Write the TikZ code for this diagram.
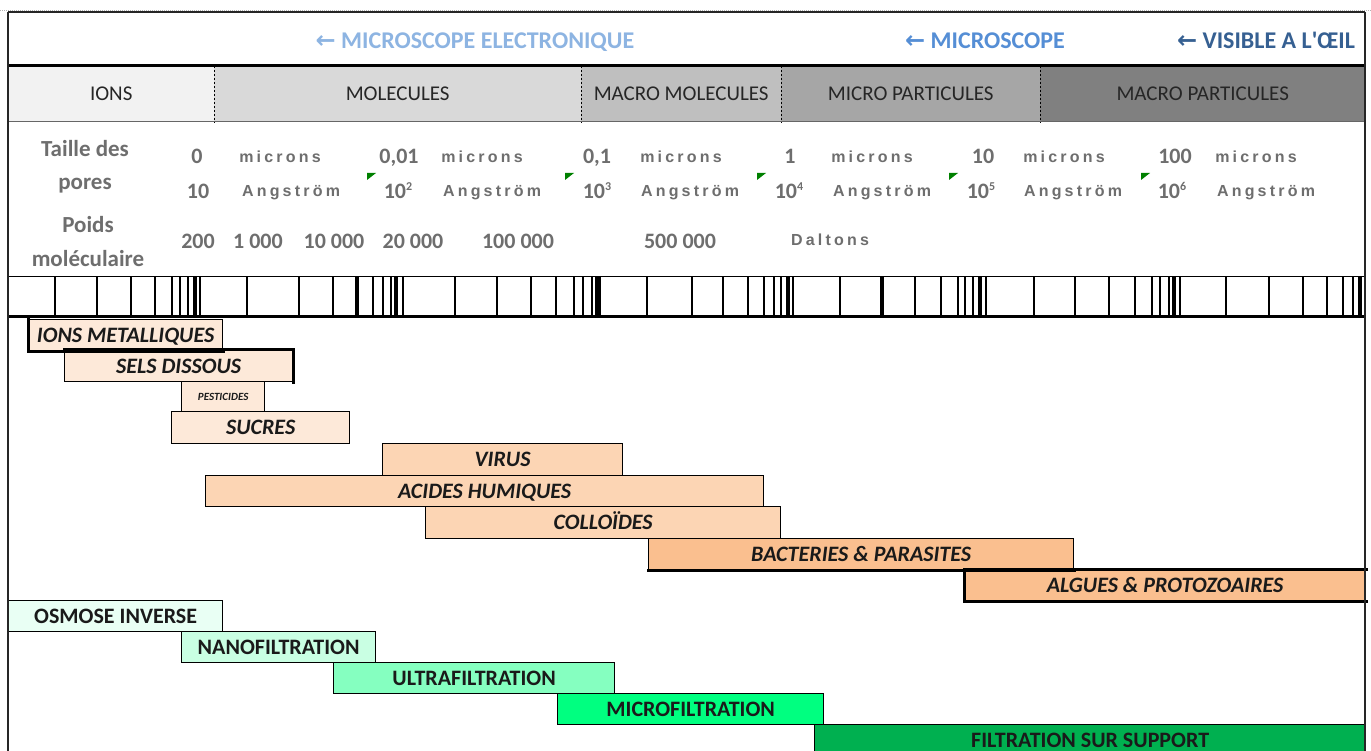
\documentclass[tikz,border=0pt]{standalone}
\usepackage{fontspec}
\setmainfont{Carlito}
\newfontfamily\arialsp[LetterSpace=20]{Liberation Sans}
\newfontfamily\dejavu{DejaVu Sans}
\newcommand\setfs[1]{\fontsize{#1}{#1}\selectfont}
\definecolor{hdrA}{HTML}{8DB4E2}
\definecolor{hdrB}{HTML}{558ED5}
\definecolor{hdrC}{HTML}{366092}
\definecolor{catA}{HTML}{F2F2F2}
\definecolor{catB}{HTML}{D9D9D9}
\definecolor{catC}{HTML}{BFBFBF}
\definecolor{catD}{HTML}{A6A6A6}
\definecolor{catE}{HTML}{808080}
\definecolor{catText}{HTML}{262626}
\definecolor{grayText}{HTML}{6E6E6E}
\definecolor{barText}{HTML}{1A1A1A}
\definecolor{peachA}{HTML}{FDE9D9}
\definecolor{peachB}{HTML}{FCD5B4}
\definecolor{peachC}{HTML}{FABF8F}
\definecolor{mintA}{HTML}{E9FFF4}
\definecolor{mintB}{HTML}{C9FFE3}
\definecolor{mintC}{HTML}{85FFC0}
\definecolor{greenA}{HTML}{00FF80}
\definecolor{greenB}{HTML}{00B050}
\definecolor{triGreen}{HTML}{008000}
\newcommand\mkbox[8]{% style, name, x1, y1, x2, y2, fill, text
  \node[#1, fill=#7, minimum width={(#5-#3)*1pt}, minimum height={(#6-#4)*1pt}, anchor=north west] (#2) at (#3,#4) {#8};}
\begin{document}
\begin{tikzpicture}[x=1pt,y=-1pt,
  hdr/.style={font=\bfseries\setfs{24}, inner sep=0, anchor=base},
  cat/.style={draw=none, inner sep=0, font=\setfs{21}, text=catText, text height=13.5pt, text depth=0pt},
  lbl/.style={font=\bfseries\setfs{23}, text=grayText, inner sep=0, anchor=base},
  num/.style={font=\bfseries\setfs{22}, text=grayText, inner sep=0, anchor=base},
  unit/.style={font=\arialsp\bfseries\setfs{16}, text=grayText, inner sep=0, anchor=base},
  bar/.style={draw=black, line width=1.3pt, inner sep=0, font=\bfseries\setfs{22}, text=barText, text height=14pt, text depth=0pt},
  barit/.style={bar, font=\bfseries\itshape\setfs{22}},
  tiny/.style={bar, font=\bfseries\itshape\setfs{11}, text height=7pt},
  thickedge/.style={line width=3pt, line cap=rect},
  frame/.style={line width=1.5pt, draw=black!85},
  divider/.style={line width=1.3pt, dash pattern=on 2pt off 2pt},
  tick/.style={line width=1.3pt},
  bigtick/.style={line width=3.2pt},
  tri/.style={fill=triGreen}]
\useasboundingbox (0,0) rectangle (1371,751);
\clip (0,0) rectangle (1371,751);
\fill[white] (0,0) rectangle (1371,751);
\draw[black!30, dash pattern=on 1pt off 1pt] (0,10) -- (1371,10);

% header row
\node[hdr, text=hdrA] (hElec) at (475,49) {{\dejavu\bfseries ←} MICROSCOPE ELECTRONIQUE};
\node[hdr, text=hdrB] (hMicro) at (985,49) {{\dejavu\bfseries ←} MICROSCOPE};
\node[hdr, text=hdrC] (hOeil) at (1266,49) {{\dejavu\bfseries ←} VISIBLE A L\addfontfeatures{Ligatures=TeXOff}'ŒIL};

% category row
\mkbox{cat}{cIons}{8}{66}{214}{122}{catA}{IONS}
\mkbox{cat}{cMol}{214}{66}{581}{122}{catB}{MOLECULES}
\mkbox{cat}{cMacMol}{581}{66}{781}{122}{catC}{MACRO MOLECULES}
\mkbox{cat}{cMicPart}{781}{66}{1040}{122}{catD}{MICRO PARTICULES}
\mkbox{cat}{cMacPart}{1040}{66}{1365}{122}{catE}{MACRO PARTICULES}
\draw[divider] (cIons.north east) -- (cIons.south east);
\draw[divider] (cMol.north east) -- (cMol.south east);
\draw[divider] (cMacMol.north east) -- (cMacMol.south east);
\draw[divider] (cMicPart.north east) -- (cMicPart.south east);
\draw[line width=3pt] (8,66) -- (1365,66);
\draw[line width=1pt, black!60] (8,122) -- (1365,122);

% labels
\node[lbl] (lTaille) at (85,157) {Taille des};
\node[lbl] (lPores) at (85,190) {pores};
\node[lbl] (lPoids) at (88,233) {Poids};
\node[lbl] (lMol) at (88,267) {moléculaire};

% row 1
\node[num] (n1a) at (197,164) {0};
\node[unit] (u1a) at (280,163) {microns};
\node[num] (n1b) at (399,164) {0,01};
\node[unit] (u1b) at (482,163) {microns};
\node[num] (n1c) at (597,164) {0,1};
\node[unit] (u1c) at (681,163) {microns};
\node[num] (n1d) at (790,164) {1};
\node[unit] (u1d) at (872,163) {microns};
\node[num] (n1e) at (983,164) {10};
\node[unit] (u1e) at (1064,163) {microns};
\node[num] (n1f) at (1175,164) {100};
\node[unit] (u1f) at (1256,163) {microns};

% row 2
\node[num] (n2a) at (198,199) {10};
\node[unit] (u2a) at (291,197) {Angström};
\node[num] (n2b) at (398,199) {10\raisebox{8pt}{\setfs{12}2}};
\node[unit] (u2b) at (492,197) {Angström};
\node[num] (n2c) at (597,199) {10\raisebox{8pt}{\setfs{12}3}};
\node[unit] (u2c) at (690,197) {Angström};
\node[num] (n2d) at (789,199) {10\raisebox{8pt}{\setfs{12}4}};
\node[unit] (u2d) at (882,197) {Angström};
\node[num] (n2e) at (981,199) {10\raisebox{8pt}{\setfs{12}5}};
\node[unit] (u2e) at (1073,197) {Angström};
\node[num] (n2f) at (1172,199) {10\raisebox{8pt}{\setfs{12}6}};
\node[unit] (u2f) at (1266,197) {Angström};
\fill[tri] (367,173) -- ++(9,0) -- ++(-9,7) -- cycle;
\fill[tri] (565,173) -- ++(9,0) -- ++(-9,7) -- cycle;
\fill[tri] (757,173) -- ++(9,0) -- ++(-9,7) -- cycle;
\fill[tri] (949,173) -- ++(9,0) -- ++(-9,7) -- cycle;
\fill[tri] (1141,173) -- ++(9,0) -- ++(-9,7) -- cycle;

% row 3
\node[num] (n3a) at (198,249) {200};
\node[num] (n3b) at (258,249) {1 000};
\node[num] (n3c) at (334,249) {10 000};
\node[num] (n3d) at (413,249) {20 000};
\node[num] (n3e) at (518,249) {100 000};
\node[num] (n3f) at (680,249) {500 000};
\node[unit] (u3) at (830,246) {Daltons};

% ruler
\draw[line width=1pt] (8,277) -- (1365,277);
\foreach \t in {55,97,131,155,172,180,188,200,247,299,333,373,383,391,403,455,497,531,556,574,583,592,600,647,692,723,748,764,774,781,793,840,915,941,958,965,973,986,1034,1075,1109,1135,1152,1160,1169,1180,1226,1269,1303,1327,1343,1353}
  \draw[tick] (\t,277) -- (\t,317);
\foreach \t in {195,357,396,597,788,882,980,1174,1360}
  \draw[bigtick] (\t,277) -- (\t,317);
\draw[line width=3pt] (8,317) -- (1365,317);

% substance bars
\mkbox{barit}{bIonsM}{28}{319}{222}{350}{peachA}{IONS METALLIQUES}
\mkbox{barit}{bSels}{64}{350}{292}{381}{peachA}{SELS DISSOUS}
\mkbox{tiny}{bPest}{181}{381}{264}{411}{peachA}{PESTICIDES}
\mkbox{barit}{bSucres}{171}{411}{349}{443}{peachA}{SUCRES}
\mkbox{barit}{bVirus}{382}{443}{622}{475}{peachB}{VIRUS}
\mkbox{barit}{bAcides}{205}{475}{763}{506}{peachB}{ACIDES HUMIQUES}
\mkbox{barit}{bColl}{425}{506}{780}{538}{peachB}{COLLOÏDES}
\mkbox{barit}{bBact}{648}{538}{1073}{569}{peachC}{BACTERIES \& PARASITES}
\mkbox{barit}{bAlg}{964}{569}{1365}{600}{peachC}{ALGUES \& PROTOZOAIRES}
\draw[thickedge] (bIonsM.north west) -- (bIonsM.south west) -- (bIonsM.south east);
\draw[thickedge] (bSels.north west) -- (bSels.north east) -- (bSels.south east);
\draw[thickedge] (bBact.south west) -- (bBact.south east);
\draw[thickedge] (bAlg.north east) -- (bAlg.north west) -- (bAlg.south west) -- (bAlg.south east);

% process bars
\mkbox{bar}{pOsm}{8}{600}{222}{631}{mintA}{OSMOSE INVERSE}
\mkbox{bar}{pNano}{181}{631}{375}{662}{mintB}{NANOFILTRATION}
\mkbox{bar}{pUltra}{333}{662}{614}{693}{mintC}{ULTRAFILTRATION}
\mkbox{bar}{pMicro}{557}{693}{823}{724}{greenA}{MICROFILTRATION}
\mkbox{bar}{pSupp}{814}{724}{1365}{756}{greenB}{FILTRATION SUR SUPPORT}

% frame
\draw[frame] (8,12) -- (1365,12);
\draw[frame] (8,12) -- (8,751);
\draw[frame] (1365,12) -- (1365,751);
\end{tikzpicture}
\end{document}
